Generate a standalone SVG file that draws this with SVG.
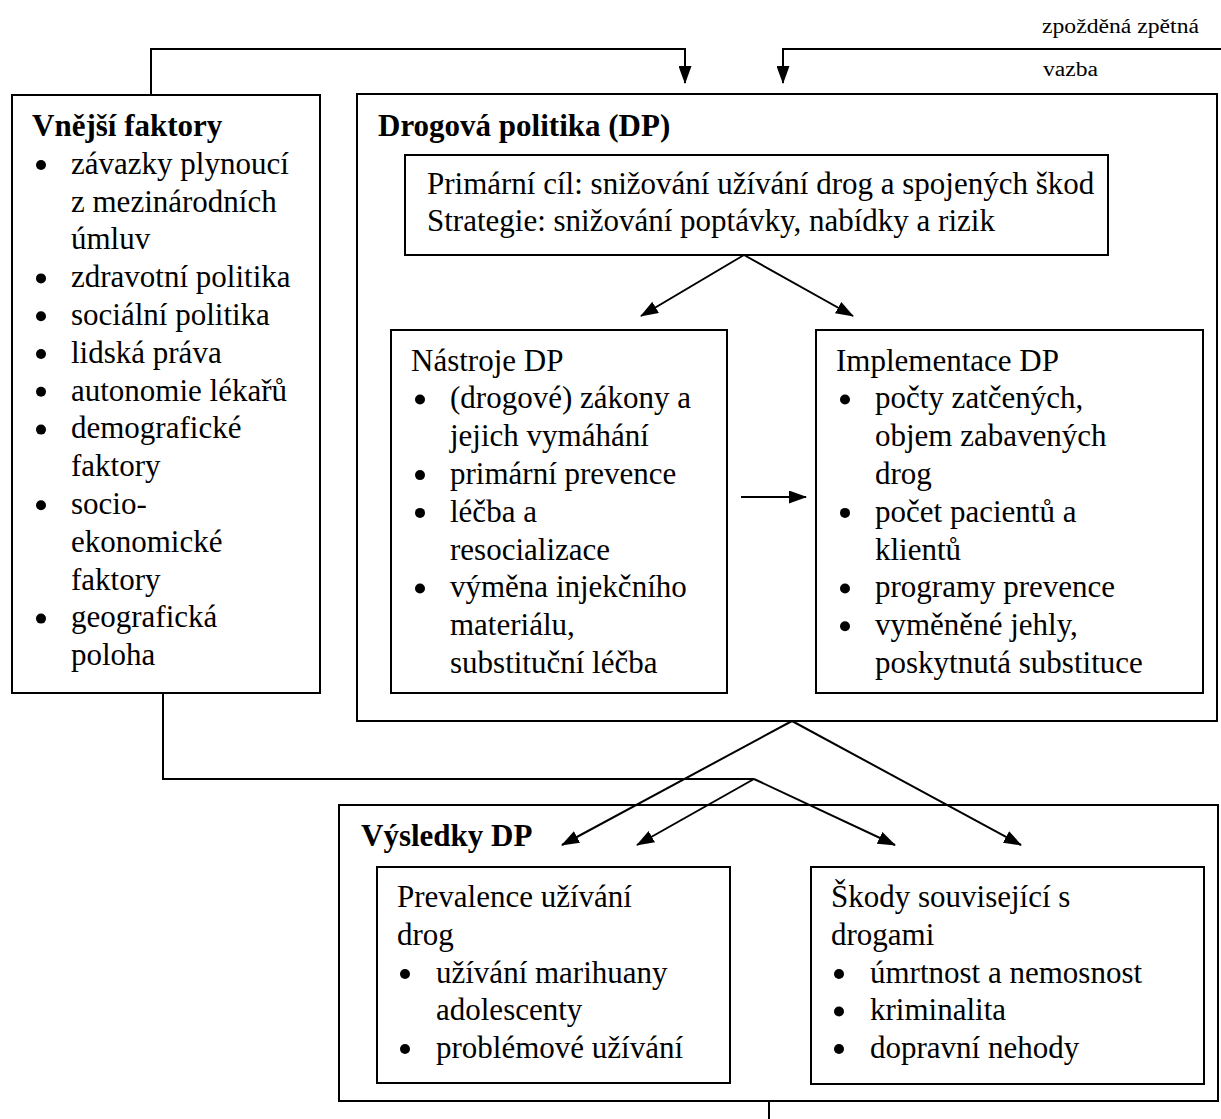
<svg xmlns="http://www.w3.org/2000/svg" width="1221" height="1119" viewBox="0 0 1221 1119">
<defs>
<style>
.box{fill:#fff;stroke:#000;stroke-width:2}
.t{font-family:"Liberation Serif","Times New Roman",serif;font-size:31px;fill:#000}
.b{font-weight:bold}
.s{font-family:"Liberation Serif","Times New Roman",serif;font-size:20px;fill:#000}
.c{fill:none;stroke:#000;stroke-width:2}
.dot{fill:#000}
</style>
<marker id="ah" viewBox="0 0 18 13" refX="17" refY="6.5" markerWidth="18" markerHeight="13" markerUnits="userSpaceOnUse" orient="auto">
<path d="M0,0 L18,6.5 L0,13 z" fill="#000"/>
</marker>
</defs>
<rect width="1221" height="1119" fill="#fff"/>

<g id="vnejsi">
<rect class="box" x="12" y="95" width="308" height="598"/>
<text class="t b" x="32" y="136">Vnější faktory</text>
<circle class="dot" cx="41" cy="165" r="5"/>
<text class="t" x="71" y="173.8">závazky plynoucí</text>
<text class="t" x="71" y="211.6">z mezinárodních</text>
<text class="t" x="71" y="249.4">úmluv</text>
<circle class="dot" cx="41" cy="278.4" r="5"/>
<text class="t" x="71" y="287.2">zdravotní politika</text>
<circle class="dot" cx="41" cy="316.2" r="5"/>
<text class="t" x="71" y="325">sociální politika</text>
<circle class="dot" cx="41" cy="354" r="5"/>
<text class="t" x="71" y="362.8">lidská práva</text>
<circle class="dot" cx="41" cy="391.8" r="5"/>
<text class="t" x="71" y="400.6">autonomie lékařů</text>
<circle class="dot" cx="41" cy="429.6" r="5"/>
<text class="t" x="71" y="438.4">demografické</text>
<text class="t" x="71" y="476.2">faktory</text>
<circle class="dot" cx="41" cy="505.2" r="5"/>
<text class="t" x="71" y="514">socio-</text>
<text class="t" x="71" y="551.8">ekonomické</text>
<text class="t" x="71" y="589.6">faktory</text>
<circle class="dot" cx="41" cy="618.6" r="5"/>
<text class="t" x="71" y="627.4">geografická</text>
<text class="t" x="71" y="665.2">poloha</text>
</g>

<g id="drogova-politika">
<rect class="box" x="357" y="94" width="860" height="627"/>
<text class="t b" x="378" y="136">Drogová politika (DP)</text>
</g>

<g id="primarni-cil">
<rect class="box" x="405" y="155" width="703" height="100"/>
<text class="t" x="427" y="194">Primární cíl: snižování užívání drog a spojených škod</text>
<text class="t" x="427" y="231">Strategie: snižování poptávky, nabídky a rizik</text>
</g>

<g id="nastroje">
<rect class="box" x="391" y="330" width="336" height="363"/>
<text class="t" x="411" y="370.5">Nástroje DP</text>
<circle class="dot" cx="420" cy="399.5" r="5"/>
<text class="t" x="450" y="408.3">(drogové) zákony a</text>
<text class="t" x="450" y="446.1">jejich vymáhání</text>
<circle class="dot" cx="420" cy="475.1" r="5"/>
<text class="t" x="450" y="483.9">primární prevence</text>
<circle class="dot" cx="420" cy="512.9" r="5"/>
<text class="t" x="450" y="521.7">léčba a</text>
<text class="t" x="450" y="559.5">resocializace</text>
<circle class="dot" cx="420" cy="588.5" r="5"/>
<text class="t" x="450" y="597.3">výměna injekčního</text>
<text class="t" x="450" y="635.1">materiálu,</text>
<text class="t" x="450" y="672.9">substituční léčba</text>
</g>

<g id="implementace">
<rect class="box" x="816" y="330" width="387" height="363"/>
<text class="t" x="836" y="370.5">Implementace DP</text>
<circle class="dot" cx="845" cy="399.5" r="5"/>
<text class="t" x="875" y="408.3">počty zatčených,</text>
<text class="t" x="875" y="446.1">objem zabavených</text>
<text class="t" x="875" y="483.9">drog</text>
<circle class="dot" cx="845" cy="512.9" r="5"/>
<text class="t" x="875" y="521.7">počet pacientů a</text>
<text class="t" x="875" y="559.5">klientů</text>
<circle class="dot" cx="845" cy="588.5" r="5"/>
<text class="t" x="875" y="597.3">programy prevence</text>
<circle class="dot" cx="845" cy="626.3" r="5"/>
<text class="t" x="875" y="635.1">vyměněné jehly,</text>
<text class="t" x="875" y="672.9">poskytnutá substituce</text>
</g>

<g id="vysledky">
<rect class="box" x="339" y="805" width="879" height="296"/>
<text class="t b" x="361" y="846">Výsledky DP</text>
</g>

<g id="prevalence">
<rect class="box" x="377" y="867" width="353" height="216"/>
<text class="t" x="397" y="907">Prevalence užívání</text>
<text class="t" x="397" y="945">drog</text>
<circle class="dot" cx="405" cy="974" r="5"/>
<text class="t" x="436" y="982.5">užívání marihuany</text>
<text class="t" x="436" y="1020">adolescenty</text>
<circle class="dot" cx="405" cy="1049" r="5"/>
<text class="t" x="436" y="1058">problémové užívání</text>
</g>

<g id="skody">
<rect class="box" x="811" y="867" width="393" height="217"/>
<text class="t" x="831" y="907">Škody související s</text>
<text class="t" x="831" y="945">drogami</text>
<circle class="dot" cx="839" cy="974" r="5"/>
<text class="t" x="870" y="982.5">úmrtnost a nemosnost</text>
<circle class="dot" cx="839" cy="1011.5" r="5"/>
<text class="t" x="870" y="1020">kriminalita</text>
<circle class="dot" cx="839" cy="1049" r="5"/>
<text class="t" x="870" y="1058">dopravní nehody</text>
</g>

<g id="connectors">
<path class="c" d="M151,95 V49 H685 V83" marker-end="url(#ah)"/>
<path class="c" d="M1221,49 H783 V83" marker-end="url(#ah)"/>
<line class="c" x1="744" y1="255" x2="641" y2="316" marker-end="url(#ah)"/>
<line class="c" x1="744" y1="255" x2="853" y2="316" marker-end="url(#ah)"/>
<line class="c" x1="741" y1="497" x2="806" y2="497" marker-end="url(#ah)"/>
<line class="c" x1="792" y1="721" x2="562" y2="845" marker-end="url(#ah)"/>
<line class="c" x1="792" y1="721" x2="1021" y2="845" marker-end="url(#ah)"/>
<path class="c" d="M163,693 V779 H754"/>
<line class="c" x1="754" y1="779" x2="637" y2="845" marker-end="url(#ah)"/>
<line class="c" x1="754" y1="779" x2="895" y2="845" marker-end="url(#ah)"/>
<line class="c" x1="769" y1="1101" x2="769" y2="1119"/>
<text class="s" x="1042" y="33" textLength="157" lengthAdjust="spacingAndGlyphs">zpožděná zpětná</text>
<text class="s" x="1043" y="76" textLength="55" lengthAdjust="spacingAndGlyphs">vazba</text>
</g>
</svg>
